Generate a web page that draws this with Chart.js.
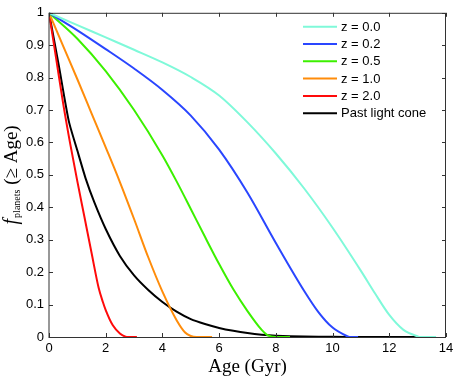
<!DOCTYPE html>
<html><head><meta charset="utf-8">
<script src="https://cdn.jsdelivr.net/npm/chart.js@4/dist/chart.umd.min.js"></script>
<style>html,body{margin:0;padding:0;background:#fff;}</style>
</head><body>
<canvas id="c" width="458" height="380"></canvas>
<script>
// ---- data ----
const seriesLabels = ['z = 0.0', 'z = 0.2', 'z = 0.5', 'z = 1.0', 'z = 2.0', 'Past light cone'];
const seriesColors = ['#7ff9d9', '#2a46ff', '#3cf000', '#ff8c0a', '#ff0a0a', '#000000'];

const ageZ00 = [0, 1, 2, 3, 4, 5, 6, 7, 8, 9, 10, 11, 11.5, 12, 12.5, 13, 13.1, 13.65];
const fZ00   = [1, 0.962, 0.924, 0.886, 0.847, 0.802, 0.745, 0.662, 0.566, 0.458, 0.337, 0.204, 0.134, 0.068, 0.022, 0.002, 0, 0];

const ageZ02 = [0, 1, 2, 3, 4, 5, 6, 7, 8, 9, 9.5, 10, 10.5, 10.6, 10.9];
const fZ02   = [1, 0.946, 0.888, 0.828, 0.762, 0.683, 0.578, 0.445, 0.29, 0.142, 0.077, 0.029, 0.003, 0, 0];

const ageZ05 = [0, 1, 2, 3, 4, 4.5, 5, 5.5, 6, 6.5, 7, 7.5, 7.7, 8, 8.5];
const fZ05   = [1, 0.92, 0.82, 0.70, 0.56, 0.48, 0.395, 0.309, 0.225, 0.147, 0.08, 0.022, 0.006, 0, 0];

const ageZ10 = [0, 0.5, 1, 1.5, 2, 2.5, 3, 3.5, 4, 4.5, 4.8, 5, 5.2, 5.75];
const fZ10   = [1, 0.897, 0.795, 0.69, 0.585, 0.478, 0.364, 0.246, 0.14, 0.052, 0.014, 0.003, 0, 0];

const ageZ20 = [0, 0.25, 0.5, 0.75, 1, 1.25, 1.5, 1.75, 1.9, 2, 2.25, 2.5, 2.7, 2.8, 3.1];
const fZ20   = [1, 0.86, 0.72, 0.595, 0.48, 0.37, 0.26, 0.152, 0.108, 0.083, 0.036, 0.011, 0.001, 0, 0];

const ageCone = [0, 0.35, 0.7, 1.0, 1.3, 1.6, 2.0, 2.5, 3.0, 3.5, 4.0, 4.5, 5.0, 5.5, 6, 6.5, 7, 7.5, 8, 9, 10, 11, 12, 13, 13.6];
const fCone   = [1, 0.835, 0.665, 0.575, 0.487, 0.415, 0.333, 0.25, 0.19, 0.145, 0.108, 0.078, 0.055, 0.04, 0.028, 0.019, 0.012, 0.007, 0.004, 0.0015, 0.0005, 0, 0, 0, 0];

const xTicks = [0, 2, 4, 6, 8, 10, 12, 14];
const yTicks = [0, 0.1, 0.2, 0.3, 0.4, 0.5, 0.6, 0.7, 0.8, 0.9, 1];

const xTitle = 'Age (Gyr)';
const yTitleMain = 'f';
const yTitleSub = 'planets';
const yTitleRest = ' (\u2265 Age)';

// ---- build ----
const seriesAges = [ageZ00, ageZ02, ageZ05, ageZ10, ageZ20, ageCone];
const seriesVals = [fZ00, fZ02, fZ05, fZ10, fZ20, fCone];
const datasets = seriesLabels.map((lab, i) => ({
  label: lab,
  data: seriesAges[i].map((a, k) => ({x: a, y: seriesVals[i][k]})),
  borderColor: seriesColors[i],
  backgroundColor: seriesColors[i],
  borderWidth: 2,
  pointRadius: 0,
  fill: false,
  cubicInterpolationMode: i === 5 ? 'default' : 'monotone',
  tension: i === 5 ? 0.2 : 0
}));

const SANS = '"Liberation Sans", Arial, sans-serif';
const SERIF = '"Liberation Serif", "Times New Roman", serif';

const decor = {
  id: 'decor',
  afterDraw(chart) {
    const ctx = chart.ctx;
    const a = chart.chartArea;
    const xs = chart.scales.x, ys = chart.scales.y;
    ctx.save();
    // frame
    ctx.strokeStyle = '#333';
    ctx.lineWidth = 1;
    ctx.strokeRect(a.left, a.top + 0.5, a.right - a.left - 0.5, a.bottom - a.top);
    // inward ticks
    ctx.beginPath();
    const tl = 4;
    xTicks.forEach(v => {
      const px = Math.round(xs.getPixelForValue(v)) + 0.5;
      ctx.moveTo(px, a.bottom); ctx.lineTo(px, a.bottom - tl);
      ctx.moveTo(px, a.top); ctx.lineTo(px, a.top + tl);
    });
    yTicks.forEach(v => {
      const py = Math.round(ys.getPixelForValue(v)) + 0.5;
      ctx.moveTo(a.left, py); ctx.lineTo(a.left + tl, py);
      ctx.moveTo(a.right, py); ctx.lineTo(a.right - tl, py);
    });
    ctx.stroke();

    // legend
    const lx0 = 303, lx1 = 337, tx = 341;
    let ly = 26.7;
    ctx.font = '13px ' + SANS;
    ctx.textBaseline = 'middle';
    ctx.textAlign = 'left';
    chart.data.datasets.forEach(ds => {
      ctx.strokeStyle = ds.borderColor;
      ctx.lineWidth = 2;
      ctx.beginPath();
      ctx.moveTo(lx0, ly); ctx.lineTo(lx1, ly);
      ctx.stroke();
      ctx.fillStyle = '#000';
      ctx.fillText(ds.label, tx, ly + 0.5);
      ly += 17.3;
    });

    // y title
    const cx = 17, cy = (a.top + a.bottom) / 2;
    ctx.translate(cx, cy);
    ctx.rotate(-Math.PI / 2);
    ctx.fillStyle = '#000';
    ctx.textBaseline = 'alphabetic';
    const fMain = 'italic 20px ' + SERIF;
    const fSub = '10px ' + SERIF;
    const fRest = '19px ' + SERIF;
    ctx.font = fMain; const w1 = ctx.measureText(yTitleMain).width + 1;
    ctx.font = fSub; const w2 = ctx.measureText(yTitleSub).width;
    ctx.font = fRest; const w3 = ctx.measureText(yTitleRest).width;
    let x0 = -(w1 + w2 + w3) / 2;
    ctx.font = fMain; ctx.fillText(yTitleMain, x0, 0);
    ctx.font = fSub; ctx.fillText(yTitleSub, x0 + w1, 3);
    ctx.font = fRest; ctx.fillText(yTitleRest, x0 + w1 + w2, 0);
    ctx.restore();
  }
};

new Chart(document.getElementById('c'), {
  type: 'line',
  data: {datasets},
  options: {
    responsive: false,
    animation: false,
    devicePixelRatio: 1,
    layout: {padding: {left: 0, right: 12, top: 12, bottom: 0}},
    plugins: {legend: {display: false}, tooltip: {enabled: false}},
    scales: {
      x: {
        type: 'linear', min: 0, max: 14,
        afterBuildTicks: s => { s.ticks = xTicks.map(v => ({value: v})); },
        grid: {display: false, drawTicks: false},
        border: {display: false},
        ticks: {padding: 4, color: '#000', font: {family: SANS, size: 13}, maxRotation: 0, autoSkip: false,
                callback: v => String(v)},
        title: {display: true, text: xTitle, color: '#000', font: {family: SERIF, size: 19}, padding: {top: 0, bottom: 2}},
        afterFit: s => { s.height = 43; }
      },
      y: {
        type: 'linear', min: 0, max: 1,
        afterBuildTicks: s => { s.ticks = yTicks.map(v => ({value: v})); },
        grid: {display: false, drawTicks: false},
        border: {display: false},
        ticks: {padding: 5, color: '#000', font: {family: SANS, size: 13}, autoSkip: false,
                callback: v => String(v)},
        afterFit: s => { s.width = 49; }
      }
    }
  },
  plugins: [decor]
});
</script>
</body></html>
